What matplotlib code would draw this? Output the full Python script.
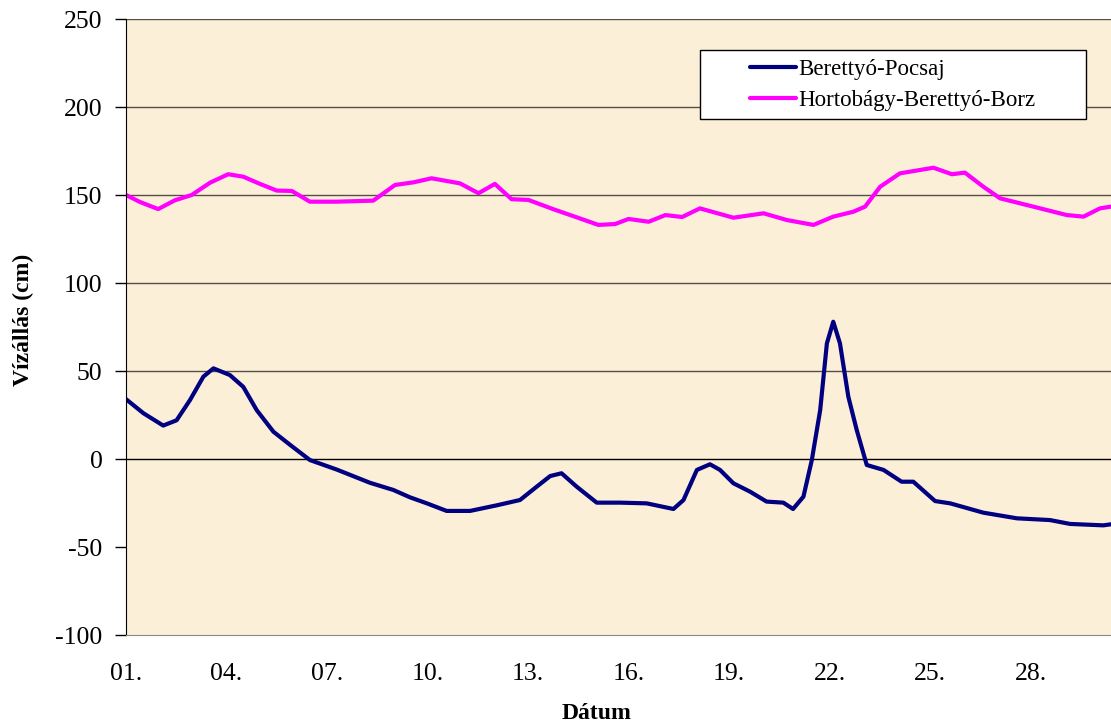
import matplotlib.pyplot as plt
from matplotlib.patches import Rectangle

plt.rcParams['font.family'] = ['Liberation Serif', 'DejaVu Serif']

# napok (tört nap = napon belüli időpont) és vízállás (cm)
pocsaj_nap = [1.0, 1.52, 2.11, 2.51, 2.91, 3.31, 3.61, 4.1, 4.5, 4.9, 5.4, 5.9, 6.49, 7.29,
              8.28, 8.98, 9.48, 9.98, 10.57, 11.27, 12.07, 12.76, 13.26, 13.66, 14.0, 14.45,
              15.05, 15.75, 16.54, 17.34, 17.64, 18.04, 18.43, 18.73, 19.13, 19.63, 20.12,
              20.62, 20.91, 21.22, 21.47, 21.72, 21.92, 22.11, 22.31, 22.56, 22.81, 23.11,
              23.61, 24.15, 24.5, 25.15, 25.6, 26.59, 27.59, 28.58, 29.18, 30.17, 30.4]
pocsaj = [34, 26, 19, 22, 33.5, 46.8, 51.5, 47.7, 41, 27.8, 15.5, 8, -0.6, -6,
          -13.5, -17.6, -21.8, -25.2, -29.5, -29.5, -26.3, -23.3, -15.7, -9.7, -8.1, -15.7,
          -24.8, -24.8, -25.2, -28.4, -23.3, -6.2, -3, -6.2, -13.8, -18.6, -24.2,
          -24.8, -28.4, -21.4, -0.6, 27.8, 65.7, 78, 65.7, 35.4, 16.5, -3.4,
          -6.2, -12.9, -12.9, -23.9, -25.2, -30.5, -33.7, -34.7, -36.9, -37.7, -37.1]

borz_nap = [1.0, 1.42, 1.96, 2.46, 2.96, 3.51, 4.05, 4.5, 5.0, 5.5, 5.95, 6.49, 7.29, 8.38,
            9.03, 9.58, 10.12, 10.97, 11.52, 12.01, 12.51, 13.01, 13.76, 14.5, 15.1, 15.6,
            16.0, 16.6, 17.1, 17.6, 18.13, 19.13, 20.03, 20.72, 21.52, 22.11, 22.71, 23.06,
            23.51, 24.1, 25.1, 25.65, 26.04, 26.59, 27.09, 28.08, 29.08, 29.58, 30.07, 30.4]
borz = [150, 146, 142, 147, 150, 157, 161.8, 160.4, 156.3, 152.5, 152.3, 146.2, 146.2, 146.8,
        155.7, 157.2, 159.5, 156.6, 151, 156.3, 147.6, 147.2, 141.9, 137, 133, 133.5,
        136.4, 134.8, 138.6, 137.5, 142.4, 137.1, 139.6, 135.8, 133, 137.7, 140.5, 143.4,
        154.7, 162.3, 165.5, 161.8, 162.7, 154.7, 148.1, 143.4, 138.6, 137.7, 142.4, 143.4]

tick_napok = [1, 4, 7, 10, 13, 16, 19, 22, 25, 28]
tick_cimkek = ['01.', '04.', '07.', '10.', '13.', '16.', '19.', '22.', '25.', '28.']
y_ertekek = [-100, -50, 0, 50, 100, 150, 200, 250]

fig = plt.figure(figsize=(11.11, 7.27), dpi=100)
ax = fig.add_axes([126 / 1111, 1 - 635 / 727, 985 / 1111, 616 / 727])
ax.set_facecolor('#fcefd8')

ax.plot(pocsaj_nap, pocsaj, color='#000080', lw=3, label='Berettyó-Pocsaj',
        solid_joinstyle='round', solid_capstyle='round')
ax.plot(borz_nap, borz, color='#ff00ff', lw=3, label='Hortobágy-Berettyó-Borz',
        solid_joinstyle='round', solid_capstyle='round')

ax.set_xlim(1, 30.4)
ax.set_ylim(-100, 250)
ax.set_yticks(y_ertekek)
ax.set_yticklabels([str(v) for v in y_ertekek])
ax.set_xticks(tick_napok)
ax.set_xticklabels(tick_cimkek)
ax.tick_params(axis='x', length=0, pad=20, labelsize=18.5)
ax.tick_params(axis='y', length=8, width=1, direction='out', pad=9, labelsize=18.5)

for v in range(0, 251, 50):
    ax.axhline(v, color='#000000' if v == 0 else '#555045', lw=1, zorder=1)

ax.spines['right'].set_visible(False)
ax.spines['top'].set_visible(False)
ax.spines['bottom'].set_color('#888888')
ax.spines['left'].set_color('#000000')

ax.set_xlabel('Dátum', fontsize=17, fontweight='bold')
ax.xaxis.set_label_coords((597 - 126) / 985, (635 - 703) / 616)
ax.set_ylabel('Vízállás (cm)', fontsize=17, fontweight='bold')
ax.yaxis.set_label_coords((34 - 126) / 985, (635 - 320) / 616)

# jelmagyarázat kerete
ax.add_patch(Rectangle(((700 - 126) / 985, (635 - 119) / 616), 386 / 985, 69 / 616,
                       transform=ax.transAxes, facecolor='white', edgecolor='black',
                       lw=1, zorder=5))
leg = ax.legend(loc='upper left', bbox_to_anchor=((750 - 126) / 985, (635 - 59) / 616),
                borderaxespad=0, borderpad=0, frameon=False, fontsize=16.5,
                handlelength=2.0, handletextpad=0.1, labelspacing=0.45)
leg.set_zorder(6)

plt.savefig('out.png', dpi=100)
